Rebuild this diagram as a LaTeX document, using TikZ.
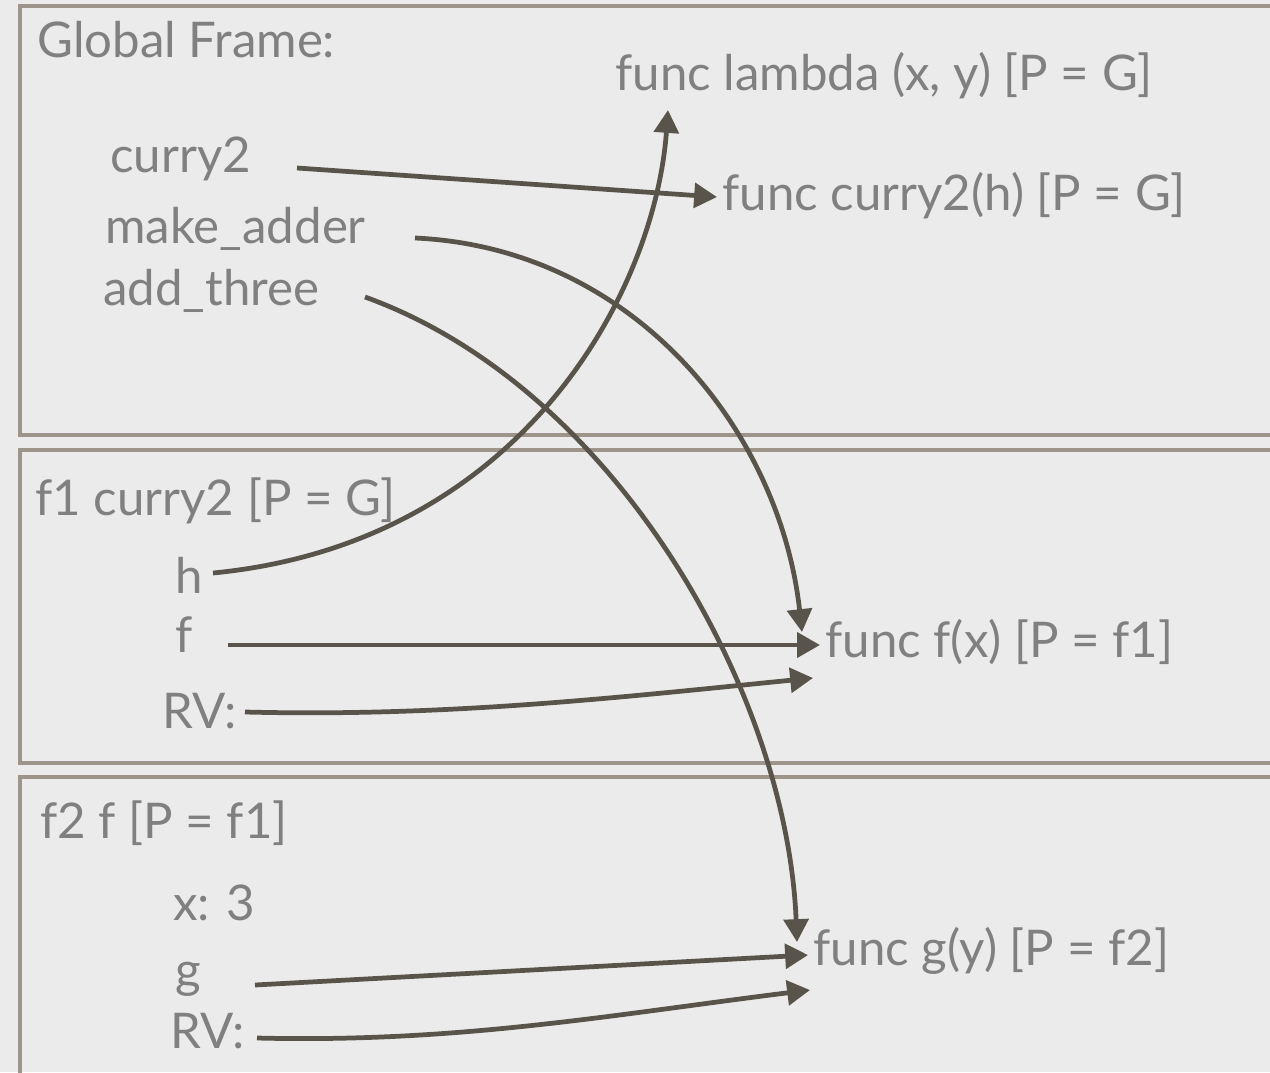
\documentclass[tikz,border=0pt]{standalone}
\usepackage{fontspec}
\setmainfont{Lato}
\usepackage{tikz}
\usetikzlibrary{arrows.meta}
\definecolor{paper}{HTML}{EBEBEB}
\definecolor{framec}{HTML}{9D958B}
\definecolor{labelc}{HTML}{808080}
\definecolor{ptrc}{HTML}{58534B}

\begin{document}
\begin{tikzpicture}[
  x=0.02cm, y=-0.02cm,
  framebox/.style={draw=framec, line width=2.8pt},
  lbl/.style={anchor=base west, inner sep=0pt, text=labelc,
    font=\fontsize{28}{33}\selectfont},
  ptr/.style={-{Triangle[length=13pt, width=14pt]}, line width=2.7pt, draw=ptrc}
]
  \clip (0,0) rectangle (1270,1072);
  \fill[paper] (0,0) rectangle (1270,1072);

  % frames
  \draw[framebox] (20,6) rectangle (1300,435);
  \draw[framebox] (20,450) rectangle (1300,763);
  \draw[framebox] (20,777) rectangle (1300,1100);

  % global frame
  \node[lbl] (gtitle) at (37,57) {Global Frame:};
  \node[lbl] (gcurry) at (110,172) {curry2};
  \node[lbl] (gmake) at (105,243) {make\_adder};
  \node[lbl] (gadd) at (103,305) {add\_three};

  % f1 frame
  \node[lbl] (fatitle) at (35,515) {f1 curry2 [P = G]};
  \node[lbl] (fah) at (175,593) {h};
  \node[lbl] (faf) at (175,652) {f};
  \node[lbl] (farv) at (162,728) {RV:};

  % f2 frame
  \node[lbl] (fbtitle) at (40,838) {f2 f [P = f1]};
  \node[lbl] (fbx) at (173,920) {x: 3};
  \node[lbl] (fbg) at (175,987) {g};
  \node[lbl] (fbrv) at (170,1048) {RV:};

  % function objects
  \node[lbl] (flambda) at (615,90) {func lambda (x, y) [P = G]};
  \node[lbl] (fcurry) at (722,210) {func curry2(h) [P = G]};
  \node[lbl] (ffx) at (825,657) {func f(x) [P = f1]};
  \node[lbl] (fgy) at (813,965) {func g(y) [P = f2]};

  % pointers
  \draw[ptr] ([shift={(187,-4)}]gcurry.base west) -- ([shift={(-5,-13)}]fcurry.base west);
  \draw[ptr] ([shift={(310,-5)}]gmake.base west)
    .. controls +(220,10) and +(-22,-200) .. ([shift={(-23,-25)}]ffx.base west);
  \draw[ptr] ([shift={(262,-8)}]gadd.base west)
    .. controls +(250,90) and +(-10,-250) .. ([shift={(-16,-23)}]fgy.base west);
  \draw[ptr] ([shift={(38,-20)}]fah.base west)
    .. controls +(310,-30) and +(-13,180) .. ([shift={(53,20)}]flambda.base west);
  \draw[ptr] ([shift={(53,-7)}]faf.base west) -- ([shift={(-5,-12)}]ffx.base west);
  \draw[ptr] ([shift={(83,-16)}]farv.base west)
    .. controls +(200,5) and +(-200,20) .. ([shift={(-12,21)}]ffx.base west);
  \draw[ptr] ([shift={(80,-2)}]fbg.base west) -- ([shift={(-5,-10)}]fgy.base west);
  \draw[ptr] ([shift={(87,-10)}]fbrv.base west)
    .. controls +(200,5) and +(-200,25) .. ([shift={(-3,25)}]fgy.base west);
\end{tikzpicture}
\end{document}
